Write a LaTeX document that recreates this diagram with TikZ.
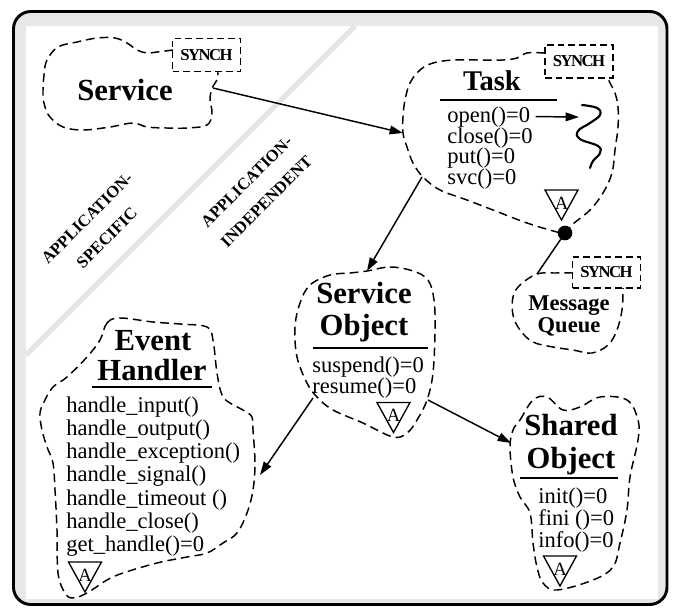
\documentclass[tikz,border=0pt]{standalone}
\usepackage{fontspec}
\setmainfont{Liberation Serif}
\usetikzlibrary{arrows.meta}
\definecolor{framegray}{gray}{0.91}
\definecolor{diaggray}{gray}{0.90}
\begin{document}
\begin{tikzpicture}[x=0.75pt,y=-0.75pt,
  cloudline/.style={dash pattern=on 6.5pt off 3.8pt, line width=1.1pt},
  synchbox/.style={draw, dash pattern=on 5pt off 3pt, line width=1.1pt, font=\fontsize{12.5}{13}\selectfont\bfseries\addfontfeatures{LetterSpace=-9}, inner sep=0pt, minimum width=51pt, minimum height=24.5pt},
  bigtitle/.style={font=\fontsize{23}{27}\selectfont\bfseries, inner sep=0pt, anchor=base},
  midtitle/.style={font=\fontsize{16.9}{20}\selectfont\bfseries, inner sep=0pt, anchor=base},
  meth/.style={font=\fontsize{16.9}{18}\selectfont, inner sep=0pt, anchor=base west},
  arr/.style={-{Triangle[length=10pt,width=6.5pt]}, line width=1.1pt},
  ul/.style={line width=1.2pt},
  diag/.style={font=\fontsize{12.5}{21}\selectfont\bfseries, rotate=45, align=center, inner sep=0pt},
  abstri/.pic={\draw[line width=1pt] (-16.5,-15) -- (16.5,-15) -- (0,15) -- cycle;
               \node[font=\fontsize{14}{14}\selectfont, inner sep=0pt] at (0,-2) {A};}
]
\useasboundingbox (0,0) rectangle (676,608);
% frame
\draw[line width=2.2pt, fill=framegray, rounded corners=13pt] (13.5,11.5) rectangle (667,604.5);
\fill[white] (26,26) rectangle (658,599);
\draw[diaggray, line width=3.8pt] (26,355) -- (355,26);

% diagonal labels
\node[diag] (lspec) at (97,228) {APPLICATION-\\SPECIFIC};
\node[diag] (lindep) at (256.5,191.5) {APPLICATION-\\INDEPENDENT};

% ---------- Service ----------
\node[synchbox] (svsynch) at (206.5,55) {SYNCH};
\draw[cloudline] plot[smooth, tension=0.6] coordinates {(173,50) (157,52) (147,53) (137,50) (127,43) (115,38) (97,38) (77,42) (58,47) (47,60) (44,75) (43,95) (45,107) (50,117) (63,127) (83,130) (110,127) (133,123) (147,127) (167,128) (187,128) (207,125) (212,113) (210,100) (212,88) (217,80) (218,72)};
\node[bigtitle] (svtitle) at (125,100) {Service};
\coordinate (svout) at (213,88);

% ---------- Task ----------
\node[synchbox] (tksynch) at (579,61.5) {SYNCH};
\draw[cloudline] plot[smooth, tension=0.6] coordinates {(545,53) (527,53) (517,58) (503,60) (480,60) (453,60) (433,63) (420,70) (410,83) (405,100) (403,117) (403,133) (407,147) (413,163) (423,177) (440,190) (467,200) (493,210) (527,223) (557,232) (565,233) (573,224) (590,210) (603,193) (612,173) (615,150) (618,127) (618,107) (615,93) (610,83) (608,78)};
\node[font=\fontsize{21.4}{24}\selectfont\bfseries, inner sep=0pt, anchor=base] (tktitle) at (492,90) {Task};
\draw[ul] (440,100) -- (557,100);
\node[meth] (tkopen) at (447,122) {open()=0};
\node[meth] (tkclose) at (447,143) {close()=0};
\node[meth] (tkput) at (447,163.5) {put()=0};
\node[meth] (tksvc) at (447,184) {svc()=0};
\coordinate (tkthread) at (579,117);
\draw[arr] ([xshift=4pt]tkopen.east) -- (tkthread);
\draw[line width=1.6pt, line cap=round] plot[smooth, tension=0.7] coordinates {(582,105) (597,108) (600,115) (590,123) (578,131) (580,139) (598,146) (600,153) (593,161) (590,168)};
\pic at (561.5,205) {abstri};
\node[circle, fill=black, inner sep=0pt, minimum size=11pt] (dot) at (565,233) {};
\coordinate (tkin) at (403,133);
\coordinate (tkout) at (422,177);

% ---------- Message Queue ----------
\node[synchbox, minimum height=23pt] (mqsynch) at (606.5,272.5) {SYNCH};
\draw[cloudline] plot[smooth, tension=0.6] coordinates {(573,273) (555,273) (537,274) (520,285) (513,297) (513,315) (520,330) (533,342) (553,347) (573,350) (592,353) (608,345) (617,330) (622,310) (623,293) (623,288)};
\node[midtitle] (mq1) at (569,310) {Message};
\node[midtitle] (mq2) at (569,332) {Queue};
\coordinate (mqin) at (537,274);
\draw[line width=1.1pt] (dot.center) -- (mqin);

% ---------- Service Object ----------
\draw[cloudline] plot[smooth cycle, tension=0.6] coordinates {(367,271) (390,267) (413,271) (428,280) (434,300) (435,330) (433,373) (427,400) (417,420) (407,433) (393,437) (363,423) (333,410) (317,397) (307,383) (297,357) (295,327) (300,303) (310,285) (330,275) (350,273)};
\node[bigtitle] (so1) at (364,303) {Service};
\node[bigtitle] (so2) at (364,335) {Object};
\draw[ul] (313,348) -- (428,348);
\node[meth] (sosus) at (312,372) {suspend()=0};
\node[meth] (sores) at (312,393) {resume()=0};
\pic at (393.5,417.5) {abstri};
\coordinate (soin) at (367,271);
\coordinate (soout1) at (313,398);
\coordinate (soout2) at (428,400);

% ---------- Shared Object ----------
\draw[cloudline] plot[smooth cycle, tension=0.6] coordinates {(513,430) (520,420) (533,400) (547,397) (563,410) (580,407) (600,397) (627,400) (638,420) (638,440) (630,477) (627,510) (620,543) (613,567) (593,580) (557,590) (543,583) (537,567) (533,543) (530,513) (520,497) (513,477) (510,447)};
\node[bigtitle] (sh1) at (571,435) {Shared};
\node[bigtitle] (sh2) at (571,468) {Object};
\draw[ul] (520,478) -- (618,478);
\node[meth] (shinit) at (538,503) {init()=0};
\node[meth] (shfini) at (538,525) {fini ()=0};
\node[meth] (shinfo) at (538,547) {info()=0};
\pic at (560,571) {abstri};
\coordinate (shin) at (511,443);

% ---------- Event Handler ----------
\draw[cloudline] plot[smooth cycle, tension=0.6] coordinates {(100,340) (107,323) (120,318) (153,322) (180,324) (207,327) (213,340) (217,373) (222,395) (230,403) (243,410) (252,417) (253,430) (255,463) (253,490) (247,513) (237,533) (223,543) (207,553) (187,557) (157,563) (123,573) (107,580) (87,593) (73,598) (65,593) (58,573) (57,530) (55,490) (53,463) (47,447) (42,430) (40,413) (45,400) (53,387) (67,377) (87,357)};
\node[bigtitle] (eh1) at (153,350) {Event};
\node[bigtitle] (eh2) at (152,380) {Handler};
\draw[ul] (92,387) -- (212,387);
\node[meth] (ehm1) at (66,412) {handle\_input()};
\node[meth] (ehm2) at (66,435.3) {handle\_output()};
\node[meth] (ehm3) at (66,458.6) {handle\_exception()};
\node[meth] (ehm4) at (66,481.9) {handle\_signal()};
\node[meth] (ehm5) at (66,505.2) {handle\_timeout ()};
\node[meth] (ehm6) at (66,528.5) {handle\_close()};
\node[meth] (ehm7) at (66,551.8) {get\_handle()=0};
\pic at (85,577) {abstri};
\coordinate (ehin) at (260,475);

% ---------- connectors ----------
\draw[arr] (svout) -- (tkin);
\draw[arr] (tkout) -- (soin);
\draw[arr] (soout1) -- (ehin);
\draw[arr] (soout2) -- (shin);
\end{tikzpicture}
\end{document}
